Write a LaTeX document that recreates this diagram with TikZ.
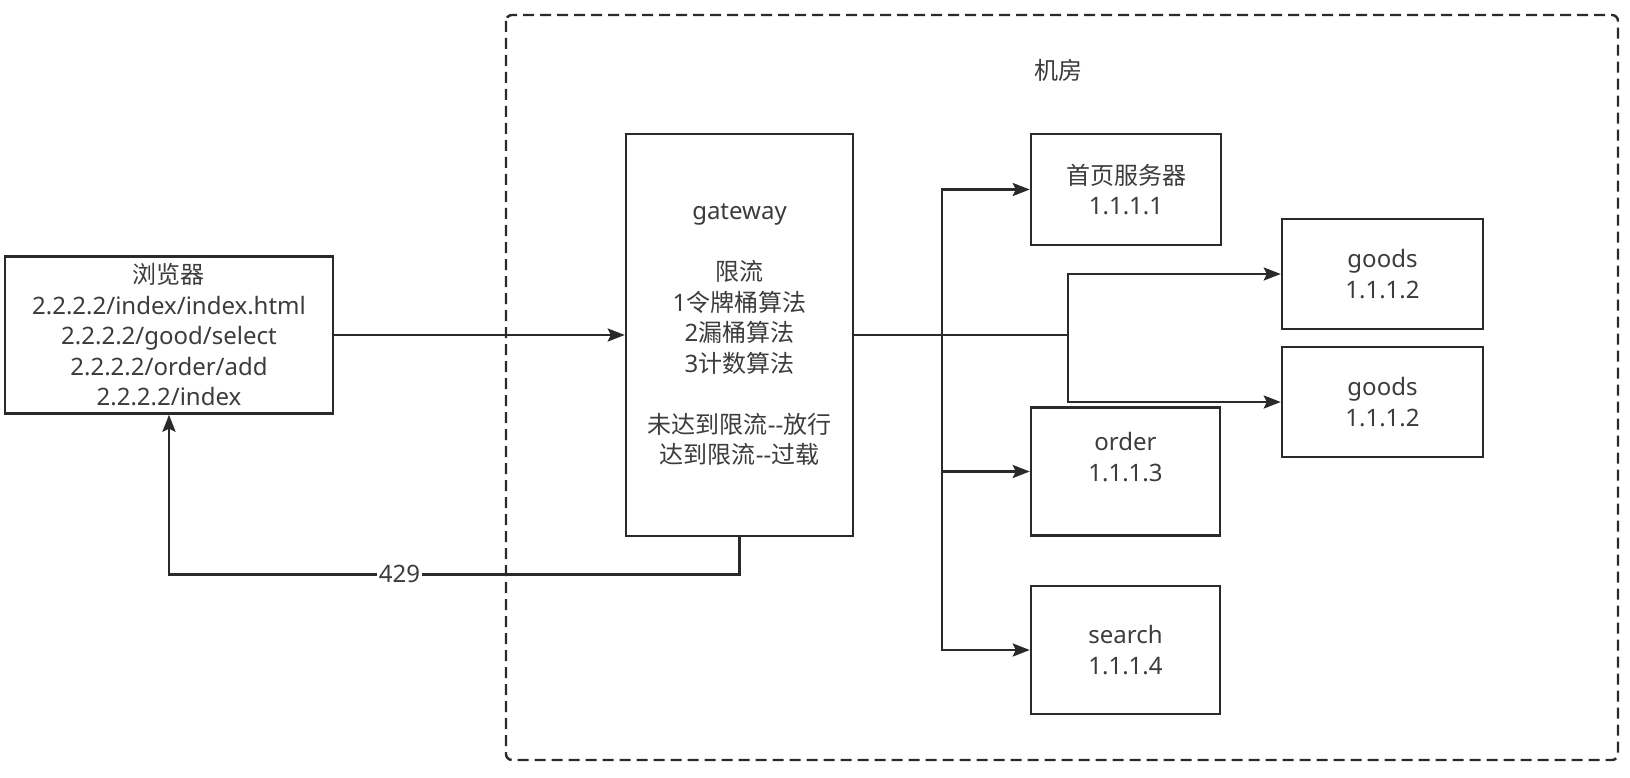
\documentclass[tikz,border=0pt]{standalone}
\usepackage{fontspec}
\setmainfont{Noto Sans}
\newfontfamily\cjk{Noto Sans CJK SC}
\usetikzlibrary{arrows.meta}
\definecolor{linec}{HTML}{2A2A2A}
\definecolor{textc}{HTML}{3C3C3C}
\tikzset{
  box/.style={draw=linec, line width=2.5pt, fill=white, rectangle, align=center, text=textc, inner sep=0pt,
    font={\fontsize{24}{30.5}\selectfont}},
  lbl/.style={text=textc, align=center, inner sep=0pt, font={\fontsize{24}{30.5}\selectfont}},
  arr/.style={draw=linec, line width=2.5pt, -{Stealth[length=17pt,width=13pt,inset=3pt]}},
}
\begin{document}
\begin{tikzpicture}[x=1pt,y=-1pt]
\useasboundingbox (0,0) rectangle (1630,778);
\fill[white] (0,0) rectangle (1630,778);
% container
\draw[linec, line width=2.4pt, dash pattern=on 11pt off 6pt, rounded corners=6pt] (506,15) rectangle (1618,760);
\node[lbl] (room) at (1058,70) {\cjk 机房};
% nodes
\node[box, minimum width=328pt, minimum height=157pt] (browser) at (169,335)
  {{\cjk 浏览器}\\2.2.2.2/index/index.html\\2.2.2.2/good/select\\2.2.2.2/order/add\\2.2.2.2/index};
\node[box, minimum width=227pt, minimum height=402pt] (gateway) at (739.5,335)
  {gateway\\[30.5pt]{\cjk 限流}\\1{\cjk 令牌桶算法}\\2{\cjk 漏桶算法}\\3{\cjk 计数算法}\\[30.5pt]{\cjk 未达到限流}-{}-{\cjk 放行}\\{\cjk 达到限流}-{}-{\cjk 过载}};
\node[box, minimum width=190pt, minimum height=111pt] (shouye) at (1126,189.5)
  {{\cjk 首页服务器}\\1.1.1.1};
\node[box, minimum width=201pt, minimum height=110pt] (goodsa) at (1382.5,274) {goods\\1.1.1.2};
\node[box, minimum width=201pt, minimum height=110pt] (goodsb) at (1382.5,402) {goods\\1.1.1.2};
\node[box, minimum width=189pt, minimum height=128pt] (order) at (1125.5,471.5) {};
\node[lbl] (ordertxt) at (1125.5,457) {order\\1.1.1.3};
\node[box, minimum width=189pt, minimum height=128pt] (search) at (1125.5,650) {search\\1.1.1.4};
% junctions
\coordinate (ja) at (942,335);
\coordinate (jb) at (1068,335);
% connectors
\draw[arr] (browser.east) -- (gateway.west);
\draw[arr] (gateway.east) -- (ja) |- (shouye.west);
\draw[arr] (gateway.east) -- (ja) |- (order.west);
\draw[arr] (gateway.east) -- (ja) |- (search.west);
\draw[arr] (gateway.east) -- (jb) |- (goodsa.west);
\draw[arr] (gateway.east) -- (jb) |- (goodsb.west);
\draw[arr] (gateway.south) -- ++(0,37) coordinate (r1) -- (r1 -| browser.south) coordinate (r2)
  node[pos=0.596, fill=white, text=textc, inner sep=2pt, font={\fontsize{24}{30.5}\selectfont}] (code) {429}
  -- (browser.south);
\end{tikzpicture}
\end{document}
